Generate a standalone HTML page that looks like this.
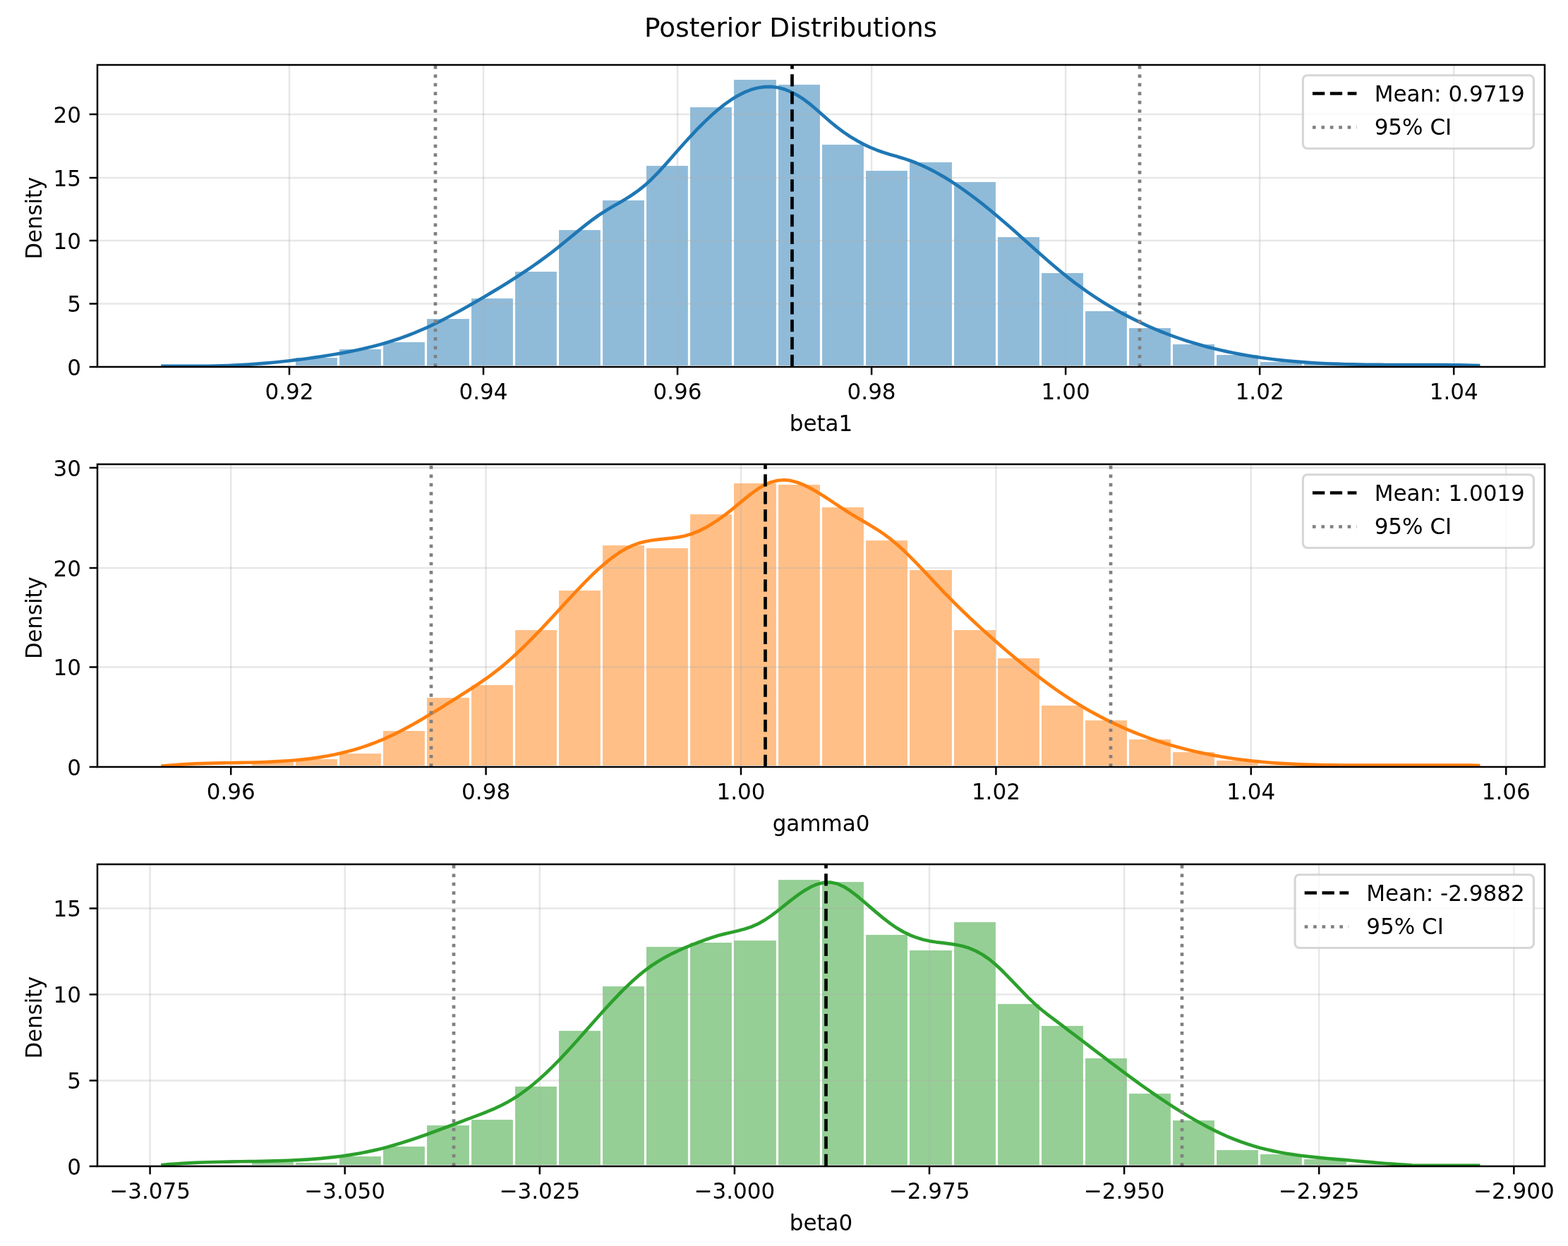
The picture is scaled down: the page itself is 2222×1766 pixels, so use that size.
<!DOCTYPE html>
<html lang="en"><head><meta charset="utf-8"><title>Posterior Distributions</title>
<style>
html,body{margin:0;padding:0;background:#fff;}
body{width:2222px;height:1766px;overflow:hidden;}
svg{display:block;}
text{font-family:"DejaVu Sans","Liberation Sans",sans-serif;fill:#000;}
.t{font-size:31.25px;}
.tt{font-size:37.5px;}
.sp{fill:none;stroke:#000;stroke-width:2.5;stroke-linejoin:miter;}
.tk{stroke:#000;stroke-width:2.5;}
.gr{stroke:#b0b0b0;stroke-opacity:0.3;stroke-width:2.5;}
.br{fill-opacity:0.5;stroke:#fff;stroke-width:3.12;}
.kd{fill:none;stroke-width:4.69;stroke-linecap:square;stroke-linejoin:round;}
.mn{stroke:#000;stroke-width:4.69;stroke-dasharray:17.34 7.5;fill:none;}
.ci{stroke:#808080;stroke-width:4.69;stroke-dasharray:4.69 7.73;fill:none;}
.lg{fill:#fff;fill-opacity:0.8;stroke:#ccc;stroke-opacity:0.8;stroke-width:3.12;}
</style></head><body>
<svg width="2222" height="1766" viewBox="0 0 2222 1766">
<rect x="0" y="0" width="2222" height="1766" fill="#fff"/>
<text class="tt" text-anchor="middle" transform="translate(1120.6 52.3) scale(0.998 1)">Posterior Distributions</text>
<g id="ax1">
<clipPath id="c1"><rect x="138" y="92" width="2051" height="428"/></clipPath>
<g clip-path="url(#c1)">
<g class="br" fill="#1f77b4">
<rect x="417.5" y="505.5" width="62" height="14"/>
<rect x="479.5" y="493.5" width="62" height="26"/>
<rect x="541.5" y="483.5" width="62" height="36"/>
<rect x="603.5" y="450.5" width="63" height="69"/>
<rect x="666.5" y="421.5" width="62" height="98"/>
<rect x="728.5" y="383.5" width="62" height="136"/>
<rect x="790.5" y="324.5" width="62" height="195"/>
<rect x="852.5" y="282.5" width="62" height="237"/>
<rect x="914.5" y="233.5" width="62" height="286"/>
<rect x="976.5" y="150.5" width="62" height="369"/>
<rect x="1038.5" y="111.5" width="63" height="408"/>
<rect x="1101.5" y="118.5" width="62" height="401"/>
<rect x="1163.5" y="203.5" width="62" height="316"/>
<rect x="1225.5" y="240.5" width="62" height="279"/>
<rect x="1287.5" y="228.5" width="63" height="291"/>
<rect x="1350.5" y="256.5" width="62" height="263"/>
<rect x="1412.5" y="334.5" width="62" height="185"/>
<rect x="1474.5" y="385.5" width="62" height="134"/>
<rect x="1536.5" y="439.5" width="62" height="80"/>
<rect x="1598.5" y="463.5" width="62" height="56"/>
<rect x="1660.5" y="486.5" width="62" height="33"/>
<rect x="1722.5" y="501.5" width="62" height="18"/>
<rect x="1784.5" y="511.5" width="62" height="8"/>
<rect x="1846.5" y="514.5" width="63" height="5"/>
</g>
<g class="gr">
<line x1="410" y1="92" x2="410" y2="520"/>
<line x1="685.03" y1="92" x2="685.03" y2="520"/>
<line x1="960.06" y1="92" x2="960.06" y2="520"/>
<line x1="1235.09" y1="92" x2="1235.09" y2="520"/>
<line x1="1510.12" y1="92" x2="1510.12" y2="520"/>
<line x1="1785.15" y1="92" x2="1785.15" y2="520"/>
<line x1="2060.18" y1="92" x2="2060.18" y2="520"/>
<line x1="138" y1="520" x2="2189" y2="520"/>
<line x1="138" y1="430.5" x2="2189" y2="430.5"/>
<line x1="138" y1="341" x2="2189" y2="341"/>
<line x1="138" y1="252" x2="2189" y2="252"/>
<line x1="138" y1="162" x2="2189" y2="162"/>
</g>
<path class="kd" stroke="#1f77b4" d="M230.47 518.8 L239.84 518.8 L249.21 518.8 L258.58 518.8 L267.95 518.8 L277.32 518.8 L286.69 518.8 L296.06 518.76 L305.43 518.6 L314.8 518.36 L324.17 518.03 L333.54 517.62 L342.91 517.14 L352.28 516.56 L361.65 515.91 L371.02 515.19 L380.39 514.38 L389.76 513.5 L399.13 512.54 L408.5 511.5 L417.87 510.39 L427.24 509.21 L436.61 507.95 L445.98 506.63 L455.35 505.23 L464.71 503.76 L474.08 502.22 L483.45 500.58 L492.82 498.84 L502.19 496.97 L511.56 494.96 L520.93 492.8 L530.3 490.47 L539.67 487.96 L549.04 485.25 L558.41 482.32 L567.78 479.17 L577.15 475.77 L586.52 472.11 L595.89 468.18 L605.26 464.02 L614.63 459.62 L624 455.03 L633.37 450.24 L642.74 445.29 L652.11 440.19 L661.48 434.96 L670.85 429.61 L680.22 424.18 L689.59 418.68 L698.96 413.11 L708.33 407.44 L717.7 401.67 L727.07 395.77 L736.44 389.73 L745.81 383.51 L755.18 377.1 L764.55 370.48 L773.92 363.63 L783.29 356.53 L792.66 349.15 L802.03 341.54 L811.4 333.82 L820.77 326.14 L830.14 318.64 L839.51 311.47 L848.88 304.78 L858.25 298.68 L867.62 293.08 L876.99 287.67 L886.36 282.17 L895.73 276.28 L905.1 269.7 L914.47 262.15 L923.84 253.46 L933.2 243.83 L942.57 233.56 L951.94 222.94 L961.31 212.26 L970.68 201.77 L980.05 191.57 L989.42 181.74 L998.79 172.38 L1008.16 163.57 L1017.53 155.39 L1026.9 147.94 L1036.27 141.3 L1045.64 135.56 L1055.01 130.8 L1064.38 127.1 L1073.75 124.52 L1083.12 123.1 L1092.49 122.91 L1101.86 123.99 L1111.23 126.39 L1120.6 130.06 L1129.97 134.97 L1139.34 141.04 L1148.71 148.21 L1158.08 156.18 L1167.45 164.51 L1176.82 172.73 L1186.19 180.4 L1195.56 187.38 L1204.93 193.69 L1214.3 199.34 L1223.67 204.37 L1233.04 208.8 L1242.41 212.67 L1251.78 215.99 L1261.15 218.89 L1270.52 221.6 L1279.89 224.38 L1289.26 227.46 L1298.63 231.03 L1308 235.07 L1317.37 239.57 L1326.74 244.51 L1336.11 249.85 L1345.48 255.58 L1354.85 261.67 L1364.22 268.1 L1373.59 274.84 L1382.96 281.88 L1392.33 289.17 L1401.69 296.71 L1411.06 304.47 L1420.43 312.43 L1429.8 320.55 L1439.17 328.82 L1448.54 337.18 L1457.91 345.58 L1467.28 353.97 L1476.65 362.29 L1486.02 370.49 L1495.39 378.52 L1504.76 386.32 L1514.13 393.83 L1523.5 401.04 L1532.87 407.94 L1542.24 414.55 L1551.61 420.87 L1560.98 426.91 L1570.35 432.68 L1579.72 438.19 L1589.09 443.44 L1598.46 448.44 L1607.83 453.2 L1617.2 457.73 L1626.57 462.03 L1635.94 466.11 L1645.31 469.98 L1654.68 473.65 L1664.05 477.11 L1673.42 480.38 L1682.79 483.46 L1692.16 486.36 L1701.53 489.09 L1710.9 491.64 L1720.27 494.04 L1729.64 496.28 L1739.01 498.37 L1748.38 500.31 L1757.75 502.12 L1767.12 503.79 L1776.49 505.33 L1785.86 506.75 L1795.23 508.04 L1804.6 509.23 L1813.97 510.3 L1823.34 511.28 L1832.71 512.15 L1842.08 512.93 L1851.45 513.62 L1860.82 514.24 L1870.18 514.77 L1879.55 515.23 L1888.92 515.63 L1898.29 515.96 L1907.66 516.24 L1917.03 516.46 L1926.4 516.64 L1935.77 516.78 L1945.14 516.89 L1954.51 516.96 L1963.88 517.01 L1973.25 517.04 L1982.62 517.05 L1991.99 517.05 L2001.36 517.05 L2010.73 517.06 L2020.1 517.06 L2029.47 517.08 L2038.84 517.12 L2048.21 517.17 L2057.58 517.26 L2066.95 517.37 L2076.32 517.53 L2085.69 517.72 L2095.06 517.97"/>
<path class="mn" d="M1122.5 520 V92"/>
<path class="ci" d="M617 520 V92"/>
<path class="ci" d="M1615 520 V92"/>
</g>
<g class="tk">
<line x1="410" y1="520" x2="410" y2="531.4"/>
<line x1="685.03" y1="520" x2="685.03" y2="531.4"/>
<line x1="960.06" y1="520" x2="960.06" y2="531.4"/>
<line x1="1235.09" y1="520" x2="1235.09" y2="531.4"/>
<line x1="1510.12" y1="520" x2="1510.12" y2="531.4"/>
<line x1="1785.15" y1="520" x2="1785.15" y2="531.4"/>
<line x1="2060.18" y1="520" x2="2060.18" y2="531.4"/>
<line x1="126.6" y1="520" x2="138" y2="520"/>
<line x1="126.6" y1="430.5" x2="138" y2="430.5"/>
<line x1="126.6" y1="341" x2="138" y2="341"/>
<line x1="126.6" y1="252" x2="138" y2="252"/>
<line x1="126.6" y1="162" x2="138" y2="162"/>
</g>
<rect class="sp" x="138" y="92" width="2051" height="428"/>
<text class="t" text-anchor="middle" transform="translate(410 566.1) scale(0.992 1.044)">0.92</text>
<text class="t" text-anchor="middle" transform="translate(685.03 566.1) scale(0.992 1.044)">0.94</text>
<text class="t" text-anchor="middle" transform="translate(960.06 566.1) scale(0.992 1.044)">0.96</text>
<text class="t" text-anchor="middle" transform="translate(1235.09 566.1) scale(0.992 1.044)">0.98</text>
<text class="t" text-anchor="middle" transform="translate(1510.12 566.1) scale(0.992 1.044)">1.00</text>
<text class="t" text-anchor="middle" transform="translate(1785.15 566.1) scale(0.992 1.044)">1.02</text>
<text class="t" text-anchor="middle" transform="translate(2060.18 566.1) scale(0.992 1.044)">1.04</text>
<text class="t" text-anchor="end" transform="translate(115 531.9) scale(0.992 1.044)">0</text>
<text class="t" text-anchor="end" transform="translate(115 442.4) scale(0.992 1.044)">5</text>
<text class="t" text-anchor="end" transform="translate(115 352.9) scale(0.992 1.044)">10</text>
<text class="t" text-anchor="end" transform="translate(115 263.9) scale(0.992 1.044)">15</text>
<text class="t" text-anchor="end" transform="translate(115 173.9) scale(0.992 1.044)">20</text>
<text class="t" text-anchor="middle" transform="translate(1163.5 610.9) scale(0.992 1.044)">beta1</text>
<text class="t" text-anchor="middle" transform="translate(58.8 309.2) rotate(-90) scale(0.982 1.044)">Density</text>
<rect class="lg" x="1846.35" y="106.7" width="327.05" height="103.8" rx="6.25" ry="6.25"/>
<path class="mn" d="M1859.95 132.5 H1922.45"/>
<path class="ci" d="M1859.95 180.5 H1922.45"/>
<text class="t" transform="translate(1947.65 143.6) scale(0.992 1.044)">Mean: 0.9719</text>
<text class="t" transform="translate(1947.65 191.3) scale(0.992 1.044)">95% CI</text>
</g>
<g id="ax2">
<clipPath id="c2"><rect x="138" y="658" width="2051" height="429"/></clipPath>
<g clip-path="url(#c2)">
<g class="br" fill="#ff7f0e">
<rect x="355.5" y="1078.5" width="62" height="8"/>
<rect x="417.5" y="1074.5" width="62" height="12"/>
<rect x="479.5" y="1066.5" width="62" height="20"/>
<rect x="541.5" y="1034.5" width="62" height="52"/>
<rect x="603.5" y="987.5" width="63" height="99"/>
<rect x="666.5" y="969.5" width="62" height="117"/>
<rect x="728.5" y="891.5" width="62" height="195"/>
<rect x="790.5" y="835.5" width="62" height="251"/>
<rect x="852.5" y="771.5" width="62" height="315"/>
<rect x="914.5" y="775.5" width="62" height="311"/>
<rect x="976.5" y="727.5" width="62" height="359"/>
<rect x="1038.5" y="683.5" width="63" height="403"/>
<rect x="1101.5" y="685.5" width="62" height="401"/>
<rect x="1163.5" y="717.5" width="62" height="369"/>
<rect x="1225.5" y="764.5" width="62" height="322"/>
<rect x="1287.5" y="806.5" width="63" height="280"/>
<rect x="1350.5" y="891.5" width="62" height="195"/>
<rect x="1412.5" y="931.5" width="62" height="155"/>
<rect x="1474.5" y="998.5" width="62" height="88"/>
<rect x="1536.5" y="1019.5" width="62" height="67"/>
<rect x="1598.5" y="1046.5" width="62" height="40"/>
<rect x="1660.5" y="1064.5" width="62" height="22"/>
<rect x="1722.5" y="1076.5" width="62" height="10"/>
<rect x="1784.5" y="1082.5" width="62" height="4"/>
</g>
<g class="gr">
<line x1="327.2" y1="658" x2="327.2" y2="1087"/>
<line x1="688.6" y1="658" x2="688.6" y2="1087"/>
<line x1="1050" y1="658" x2="1050" y2="1087"/>
<line x1="1411.4" y1="658" x2="1411.4" y2="1087"/>
<line x1="1772.8" y1="658" x2="1772.8" y2="1087"/>
<line x1="2134.2" y1="658" x2="2134.2" y2="1087"/>
<line x1="138" y1="1087" x2="2189" y2="1087"/>
<line x1="138" y1="945.5" x2="2189" y2="945.5"/>
<line x1="138" y1="805" x2="2189" y2="805"/>
<line x1="138" y1="663" x2="2189" y2="663"/>
</g>
<path class="kd" stroke="#ff7f0e" d="M230.47 1085.66 L239.84 1084.76 L249.21 1084.01 L258.58 1083.38 L267.95 1082.86 L277.32 1082.43 L286.69 1082.09 L296.06 1081.82 L305.43 1081.59 L314.8 1081.4 L324.17 1081.24 L333.54 1081.08 L342.91 1080.91 L352.28 1080.72 L361.65 1080.5 L371.02 1080.22 L380.39 1079.87 L389.76 1079.44 L399.13 1078.92 L408.5 1078.28 L417.87 1077.52 L427.24 1076.61 L436.61 1075.55 L445.98 1074.32 L455.35 1072.9 L464.71 1071.28 L474.08 1069.44 L483.45 1067.37 L492.82 1065.06 L502.19 1062.49 L511.56 1059.64 L520.93 1056.5 L530.3 1053.06 L539.67 1049.29 L549.04 1045.2 L558.41 1040.79 L567.78 1036.1 L577.15 1031.16 L586.52 1025.99 L595.89 1020.63 L605.26 1015.1 L614.63 1009.43 L624 1003.66 L633.37 997.82 L642.74 991.93 L652.11 986.02 L661.48 980.08 L670.85 974.03 L680.22 967.79 L689.59 961.28 L698.96 954.41 L708.33 947.1 L717.7 939.29 L727.07 930.99 L736.44 922.25 L745.81 913.15 L755.18 903.71 L764.55 894.01 L773.92 884.1 L783.29 874.03 L792.66 863.85 L802.03 853.64 L811.4 843.49 L820.77 833.53 L830.14 823.85 L839.51 814.58 L848.88 805.8 L858.25 797.65 L867.62 790.21 L876.99 783.61 L886.36 777.95 L895.73 773.35 L905.1 769.88 L914.47 767.45 L923.84 765.78 L933.2 764.61 L942.57 763.66 L951.94 762.67 L961.31 761.37 L970.68 759.48 L980.05 756.74 L989.42 753.03 L998.79 748.41 L1008.16 743 L1017.53 736.86 L1026.9 730.11 L1036.27 722.82 L1045.64 715.13 L1055.01 707.33 L1064.38 699.84 L1073.75 693.09 L1083.12 687.49 L1092.49 683.41 L1101.86 680.99 L1111.23 680.23 L1120.6 681.18 L1129.97 683.7 L1139.34 687.47 L1148.71 692.15 L1158.08 697.48 L1167.45 703.29 L1176.82 709.4 L1186.19 715.64 L1195.56 721.83 L1204.93 727.8 L1214.3 733.43 L1223.67 738.89 L1233.04 744.4 L1242.41 750.16 L1251.78 756.39 L1261.15 763.32 L1270.52 771.07 L1279.89 779.55 L1289.26 788.61 L1298.63 798.12 L1308 807.93 L1317.37 817.9 L1326.74 827.9 L1336.11 837.77 L1345.48 847.42 L1354.85 856.83 L1364.22 866.02 L1373.59 874.99 L1382.96 883.77 L1392.33 892.36 L1401.69 900.78 L1411.06 909.05 L1420.43 917.17 L1429.8 925.17 L1439.17 933.04 L1448.54 940.76 L1457.91 948.33 L1467.28 955.71 L1476.65 962.89 L1486.02 969.86 L1495.39 976.59 L1504.76 983.07 L1514.13 989.28 L1523.5 995.24 L1532.87 1000.95 L1542.24 1006.41 L1551.61 1011.63 L1560.98 1016.62 L1570.35 1021.38 L1579.72 1025.91 L1589.09 1030.23 L1598.46 1034.33 L1607.83 1038.22 L1617.2 1041.91 L1626.57 1045.4 L1635.94 1048.7 L1645.31 1051.82 L1654.68 1054.75 L1664.05 1057.5 L1673.42 1060.09 L1682.79 1062.5 L1692.16 1064.76 L1701.53 1066.86 L1710.9 1068.81 L1720.27 1070.62 L1729.64 1072.28 L1739.01 1073.82 L1748.38 1075.22 L1757.75 1076.5 L1767.12 1077.66 L1776.49 1078.71 L1785.86 1079.65 L1795.23 1080.49 L1804.6 1081.24 L1813.97 1081.89 L1823.34 1082.45 L1832.71 1082.93 L1842.08 1083.34 L1851.45 1083.67 L1860.82 1083.95 L1870.18 1084.16 L1879.55 1084.31 L1888.92 1084.42 L1898.29 1084.48 L1907.66 1084.51 L1917.03 1084.51 L1926.4 1084.51 L1935.77 1084.51 L1945.14 1084.51 L1954.51 1084.51 L1963.88 1084.51 L1973.25 1084.51 L1982.62 1084.51 L1991.99 1084.51 L2001.36 1084.51 L2010.73 1084.51 L2020.1 1084.51 L2029.47 1084.51 L2038.84 1084.51 L2048.21 1084.51 L2057.58 1084.51 L2066.95 1084.51 L2076.32 1084.51 L2085.69 1084.64 L2095.06 1085"/>
<path class="mn" d="M1084.5 1087 V658"/>
<path class="ci" d="M611 1087 V658"/>
<path class="ci" d="M1574 1087 V658"/>
</g>
<g class="tk">
<line x1="327.2" y1="1087" x2="327.2" y2="1098.4"/>
<line x1="688.6" y1="1087" x2="688.6" y2="1098.4"/>
<line x1="1050" y1="1087" x2="1050" y2="1098.4"/>
<line x1="1411.4" y1="1087" x2="1411.4" y2="1098.4"/>
<line x1="1772.8" y1="1087" x2="1772.8" y2="1098.4"/>
<line x1="2134.2" y1="1087" x2="2134.2" y2="1098.4"/>
<line x1="126.6" y1="1087" x2="138" y2="1087"/>
<line x1="126.6" y1="945.5" x2="138" y2="945.5"/>
<line x1="126.6" y1="805" x2="138" y2="805"/>
<line x1="126.6" y1="663" x2="138" y2="663"/>
</g>
<rect class="sp" x="138" y="658" width="2051" height="429"/>
<text class="t" text-anchor="middle" transform="translate(327.2 1133.1) scale(0.992 1.044)">0.96</text>
<text class="t" text-anchor="middle" transform="translate(688.6 1133.1) scale(0.992 1.044)">0.98</text>
<text class="t" text-anchor="middle" transform="translate(1050 1133.1) scale(0.992 1.044)">1.00</text>
<text class="t" text-anchor="middle" transform="translate(1411.4 1133.1) scale(0.992 1.044)">1.02</text>
<text class="t" text-anchor="middle" transform="translate(1772.8 1133.1) scale(0.992 1.044)">1.04</text>
<text class="t" text-anchor="middle" transform="translate(2134.2 1133.1) scale(0.992 1.044)">1.06</text>
<text class="t" text-anchor="end" transform="translate(115 1098.9) scale(0.992 1.044)">0</text>
<text class="t" text-anchor="end" transform="translate(115 957.4) scale(0.992 1.044)">10</text>
<text class="t" text-anchor="end" transform="translate(115 816.9) scale(0.992 1.044)">20</text>
<text class="t" text-anchor="end" transform="translate(115 674.9) scale(0.992 1.044)">30</text>
<text class="t" text-anchor="middle" transform="translate(1163.5 1177.9) scale(0.992 1.044)">gamma0</text>
<text class="t" text-anchor="middle" transform="translate(58.8 875.7) rotate(-90) scale(0.982 1.044)">Density</text>
<rect class="lg" x="1846.35" y="672.7" width="327.05" height="103.8" rx="6.25" ry="6.25"/>
<path class="mn" d="M1859.95 698.5 H1922.45"/>
<path class="ci" d="M1859.95 746.5 H1922.45"/>
<text class="t" transform="translate(1947.65 709.6) scale(0.992 1.044)">Mean: 1.0019</text>
<text class="t" transform="translate(1947.65 757.3) scale(0.992 1.044)">95% CI</text>
</g>
<g id="ax3">
<clipPath id="c3"><rect x="138" y="1225" width="2051" height="428"/></clipPath>
<g clip-path="url(#c3)">
<g class="br" fill="#2ca02c">
<rect x="355.5" y="1645.5" width="62" height="7"/>
<rect x="417.5" y="1646.5" width="62" height="6"/>
<rect x="479.5" y="1637.5" width="62" height="15"/>
<rect x="541.5" y="1623.5" width="62" height="29"/>
<rect x="603.5" y="1593.5" width="63" height="59"/>
<rect x="666.5" y="1585.5" width="62" height="67"/>
<rect x="728.5" y="1538.5" width="62" height="114"/>
<rect x="790.5" y="1459.5" width="62" height="193"/>
<rect x="852.5" y="1396.5" width="62" height="256"/>
<rect x="914.5" y="1340.5" width="62" height="312"/>
<rect x="976.5" y="1334.5" width="62" height="318"/>
<rect x="1038.5" y="1331.5" width="63" height="321"/>
<rect x="1101.5" y="1245.5" width="62" height="407"/>
<rect x="1163.5" y="1248.5" width="62" height="404"/>
<rect x="1225.5" y="1323.5" width="62" height="329"/>
<rect x="1287.5" y="1345.5" width="63" height="307"/>
<rect x="1350.5" y="1305.5" width="62" height="347"/>
<rect x="1412.5" y="1421.5" width="62" height="231"/>
<rect x="1474.5" y="1452.5" width="62" height="200"/>
<rect x="1536.5" y="1498.5" width="62" height="154"/>
<rect x="1598.5" y="1548.5" width="62" height="104"/>
<rect x="1660.5" y="1586.5" width="62" height="66"/>
<rect x="1722.5" y="1628.5" width="62" height="24"/>
<rect x="1784.5" y="1634.5" width="62" height="18"/>
<rect x="1846.5" y="1641.5" width="63" height="11"/>
<rect x="1909.5" y="1648.5" width="62" height="4"/>
</g>
<g class="gr">
<line x1="212.6" y1="1225" x2="212.6" y2="1653"/>
<line x1="488.7" y1="1225" x2="488.7" y2="1653"/>
<line x1="764.8" y1="1225" x2="764.8" y2="1653"/>
<line x1="1040.9" y1="1225" x2="1040.9" y2="1653"/>
<line x1="1317" y1="1225" x2="1317" y2="1653"/>
<line x1="1593.1" y1="1225" x2="1593.1" y2="1653"/>
<line x1="1869.2" y1="1225" x2="1869.2" y2="1653"/>
<line x1="2145.3" y1="1225" x2="2145.3" y2="1653"/>
<line x1="138" y1="1653" x2="2189" y2="1653"/>
<line x1="138" y1="1531.5" x2="2189" y2="1531.5"/>
<line x1="138" y1="1409.5" x2="2189" y2="1409.5"/>
<line x1="138" y1="1287.5" x2="2189" y2="1287.5"/>
</g>
<path class="kd" stroke="#2ca02c" d="M230.47 1651.04 L239.84 1650.2 L249.21 1649.48 L258.58 1648.86 L267.95 1648.34 L277.32 1647.9 L286.69 1647.53 L296.06 1647.22 L305.43 1646.97 L314.8 1646.76 L324.17 1646.58 L333.54 1646.42 L342.91 1646.28 L352.28 1646.14 L361.65 1645.99 L371.02 1645.82 L380.39 1645.62 L389.76 1645.39 L399.13 1645.11 L408.5 1644.77 L417.87 1644.36 L427.24 1643.87 L436.61 1643.29 L445.98 1642.61 L455.35 1641.83 L464.71 1640.92 L474.08 1639.89 L483.45 1638.71 L492.82 1637.39 L502.19 1635.91 L511.56 1634.25 L520.93 1632.42 L530.3 1630.39 L539.67 1628.17 L549.04 1625.74 L558.41 1623.11 L567.78 1620.3 L577.15 1617.34 L586.52 1614.23 L595.89 1611 L605.26 1607.68 L614.63 1604.27 L624 1600.79 L633.37 1597.28 L642.74 1593.74 L652.11 1590.19 L661.48 1586.66 L670.85 1583.16 L680.22 1579.63 L689.59 1575.96 L698.96 1572.03 L708.33 1567.73 L717.7 1562.94 L727.07 1557.55 L736.44 1551.46 L745.81 1544.69 L755.18 1537.28 L764.55 1529.28 L773.92 1520.73 L783.29 1511.67 L792.66 1502.14 L802.03 1492.22 L811.4 1481.97 L820.77 1471.51 L830.14 1460.92 L839.51 1450.29 L848.88 1439.71 L858.25 1429.29 L867.62 1419.11 L876.99 1409.26 L886.36 1399.84 L895.73 1390.94 L905.1 1382.65 L914.47 1375.08 L923.84 1368.27 L933.2 1362.17 L942.57 1356.71 L951.94 1351.78 L961.31 1347.31 L970.68 1343.21 L980.05 1339.38 L989.42 1335.76 L998.79 1332.26 L1008.16 1328.99 L1017.53 1326.07 L1026.9 1323.61 L1036.27 1321.46 L1045.64 1319.31 L1055.01 1316.85 L1064.38 1313.74 L1073.75 1309.68 L1083.12 1304.41 L1092.49 1298.07 L1101.86 1291.01 L1111.23 1283.58 L1120.6 1276.14 L1129.97 1269.03 L1139.34 1262.61 L1148.71 1257.22 L1158.08 1253.19 L1167.45 1250.85 L1176.82 1250.5 L1186.19 1252.44 L1195.56 1256.6 L1204.93 1262.51 L1214.3 1269.65 L1223.67 1277.51 L1233.04 1285.61 L1242.41 1293.65 L1251.78 1301.39 L1261.15 1308.62 L1270.52 1315.1 L1279.89 1320.64 L1289.26 1325.2 L1298.63 1328.86 L1308 1331.71 L1317.37 1333.82 L1326.74 1335.3 L1336.11 1336.45 L1345.48 1337.56 L1354.85 1338.96 L1364.22 1340.96 L1373.59 1343.86 L1382.96 1347.83 L1392.33 1353 L1401.69 1359.48 L1411.06 1367.26 L1420.43 1376.06 L1429.8 1385.55 L1439.17 1395.39 L1448.54 1405.24 L1457.91 1414.78 L1467.28 1423.67 L1476.65 1431.72 L1486.02 1439.14 L1495.39 1446.21 L1504.76 1453.21 L1514.13 1460.26 L1523.5 1467.36 L1532.87 1474.5 L1542.24 1481.65 L1551.61 1488.8 L1560.98 1495.95 L1570.35 1503.07 L1579.72 1510.15 L1589.09 1517.18 L1598.46 1524.14 L1607.83 1531.01 L1617.2 1537.79 L1626.57 1544.46 L1635.94 1551 L1645.31 1557.41 L1654.68 1563.66 L1664.05 1569.73 L1673.42 1575.63 L1682.79 1581.33 L1692.16 1586.81 L1701.53 1592.07 L1710.9 1597.09 L1720.27 1601.85 L1729.64 1606.35 L1739.01 1610.56 L1748.38 1614.47 L1757.75 1618.06 L1767.12 1621.33 L1776.49 1624.28 L1785.86 1626.92 L1795.23 1629.29 L1804.6 1631.4 L1813.97 1633.27 L1823.34 1634.94 L1832.71 1636.42 L1842.08 1637.73 L1851.45 1638.9 L1860.82 1639.95 L1870.18 1640.9 L1879.55 1641.79 L1888.92 1642.61 L1898.29 1643.42 L1907.66 1644.21 L1917.03 1645.02 L1926.4 1645.83 L1935.77 1646.65 L1945.14 1647.45 L1954.51 1648.22 L1963.88 1648.97 L1973.25 1649.68 L1982.62 1650.34 L1991.99 1650.94 L2001.36 1651.48 L2010.73 1651.8 L2020.1 1651.8 L2029.47 1651.8 L2038.84 1651.8 L2048.21 1651.8 L2057.58 1651.8 L2066.95 1651.8 L2076.32 1651.8 L2085.69 1651.8 L2095.06 1651.8"/>
<path class="mn" d="M1170.5 1653 V1225"/>
<path class="ci" d="M643 1653 V1225"/>
<path class="ci" d="M1675 1653 V1225"/>
</g>
<g class="tk">
<line x1="212.6" y1="1653" x2="212.6" y2="1664.4"/>
<line x1="488.7" y1="1653" x2="488.7" y2="1664.4"/>
<line x1="764.8" y1="1653" x2="764.8" y2="1664.4"/>
<line x1="1040.9" y1="1653" x2="1040.9" y2="1664.4"/>
<line x1="1317" y1="1653" x2="1317" y2="1664.4"/>
<line x1="1593.1" y1="1653" x2="1593.1" y2="1664.4"/>
<line x1="1869.2" y1="1653" x2="1869.2" y2="1664.4"/>
<line x1="2145.3" y1="1653" x2="2145.3" y2="1664.4"/>
<line x1="126.6" y1="1653" x2="138" y2="1653"/>
<line x1="126.6" y1="1531.5" x2="138" y2="1531.5"/>
<line x1="126.6" y1="1409.5" x2="138" y2="1409.5"/>
<line x1="126.6" y1="1287.5" x2="138" y2="1287.5"/>
</g>
<rect class="sp" x="138" y="1225" width="2051" height="428"/>
<text class="t" text-anchor="middle" transform="translate(212.6 1699.1) scale(0.992 1.044)">−3.075</text>
<text class="t" text-anchor="middle" transform="translate(488.7 1699.1) scale(0.992 1.044)">−3.050</text>
<text class="t" text-anchor="middle" transform="translate(764.8 1699.1) scale(0.992 1.044)">−3.025</text>
<text class="t" text-anchor="middle" transform="translate(1040.9 1699.1) scale(0.992 1.044)">−3.000</text>
<text class="t" text-anchor="middle" transform="translate(1317 1699.1) scale(0.992 1.044)">−2.975</text>
<text class="t" text-anchor="middle" transform="translate(1593.1 1699.1) scale(0.992 1.044)">−2.950</text>
<text class="t" text-anchor="middle" transform="translate(1869.2 1699.1) scale(0.992 1.044)">−2.925</text>
<text class="t" text-anchor="middle" transform="translate(2145.3 1699.1) scale(0.992 1.044)">−2.900</text>
<text class="t" text-anchor="end" transform="translate(115 1664.9) scale(0.992 1.044)">0</text>
<text class="t" text-anchor="end" transform="translate(115 1543.4) scale(0.992 1.044)">5</text>
<text class="t" text-anchor="end" transform="translate(115 1421.4) scale(0.992 1.044)">10</text>
<text class="t" text-anchor="end" transform="translate(115 1299.4) scale(0.992 1.044)">15</text>
<text class="t" text-anchor="middle" transform="translate(1163.5 1743.9) scale(0.992 1.044)">beta0</text>
<text class="t" text-anchor="middle" transform="translate(58.8 1442.2) rotate(-90) scale(0.982 1.044)">Density</text>
<rect class="lg" x="1835.07" y="1239.7" width="338.33" height="103.8" rx="6.25" ry="6.25"/>
<path class="mn" d="M1848.67 1265.5 H1911.17"/>
<path class="ci" d="M1848.67 1313.5 H1911.17"/>
<text class="t" transform="translate(1936.37 1276.6) scale(0.992 1.044)">Mean: -2.9882</text>
<text class="t" transform="translate(1936.37 1324.3) scale(0.992 1.044)">95% CI</text>
</g>
</svg>
</body></html>
